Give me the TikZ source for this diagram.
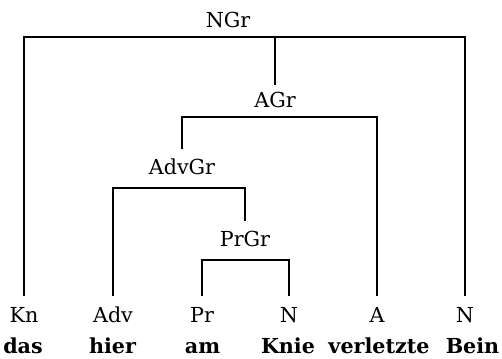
\documentclass[tikz,border=0pt]{standalone}
\usepackage{fontspec}
\setmainfont{DejaVu Serif}

\tikzset{every picture/.style={line width=1pt}}
\tikzset{
  cat/.style={font=\fontsize{15.5}{18}\selectfont, anchor=base, inner xsep=0.75pt, inner ysep=6.75pt, text height=12pt, text depth=3.5pt},
  word/.style={font=\fontsize{15.5}{18}\selectfont\bfseries, anchor=base, inner sep=0.75pt}
}

\begin{document}
\begin{tikzpicture}[x=0.75pt,y=0.75pt,yscale=-1,xscale=1]
\useasboundingbox (0,0) rectangle (502,359);

% Text Node
\node (ngr) at (228,28) [cat] {NGr};
% Text Node
\node (agr) at (275,108) [cat] {AGr};
% Text Node
\node (advgr) at (182,175) [cat] {AdvGr};
% Text Node
\node (prgr) at (245,247) [cat] {PrGr};

% Text Node
\node (kn) at (24,322) [cat] {Kn};
% Text Node
\node (adv) at (113,322) [cat] {Adv};
% Text Node
\node (pr) at (202,322) [cat] {Pr};
% Text Node
\node (n1) at (289,322) [cat] {N};
% Text Node
\node (a) at (377,322) [cat] {A};
% Text Node
\node (n2) at (465,322) [cat] {N};

% Text Node
\node (w-das) at (23,353) [word] {das};
% Text Node
\node (w-hier) at (112.5,353) [word] {hier};
% Text Node
\node (w-am) at (202.5,353) [word] {am};
% Text Node
\node (w-knie) at (288,353) [word] {Knie};
% Text Node
\node (w-verletzte) at (379,353) [word] {verletzte};
% Text Node
\node (w-bein) at (472.5,353) [word] {Bein};

% bars under the group labels
\coordinate (ngr-bar) at (275,37);
\coordinate (agr-bar) at (280,117);
\coordinate (advgr-bar) at (180,188);
\coordinate (prgr-bar) at (245,260);

%Straight Lines
\draw (kn.north) |- (ngr-bar) -| (n2.north);
\draw (ngr-bar) -- ([yshift=2.25pt]agr.north);
%Straight Lines
\draw (advgr.north) |- (agr-bar) -| (a.north);
%Straight Lines
\draw (adv.north) |- (advgr-bar) -| (prgr.north);
%Straight Lines
\draw (pr.north) |- (prgr-bar) -| (n1.north);

\end{tikzpicture}
\end{document}
